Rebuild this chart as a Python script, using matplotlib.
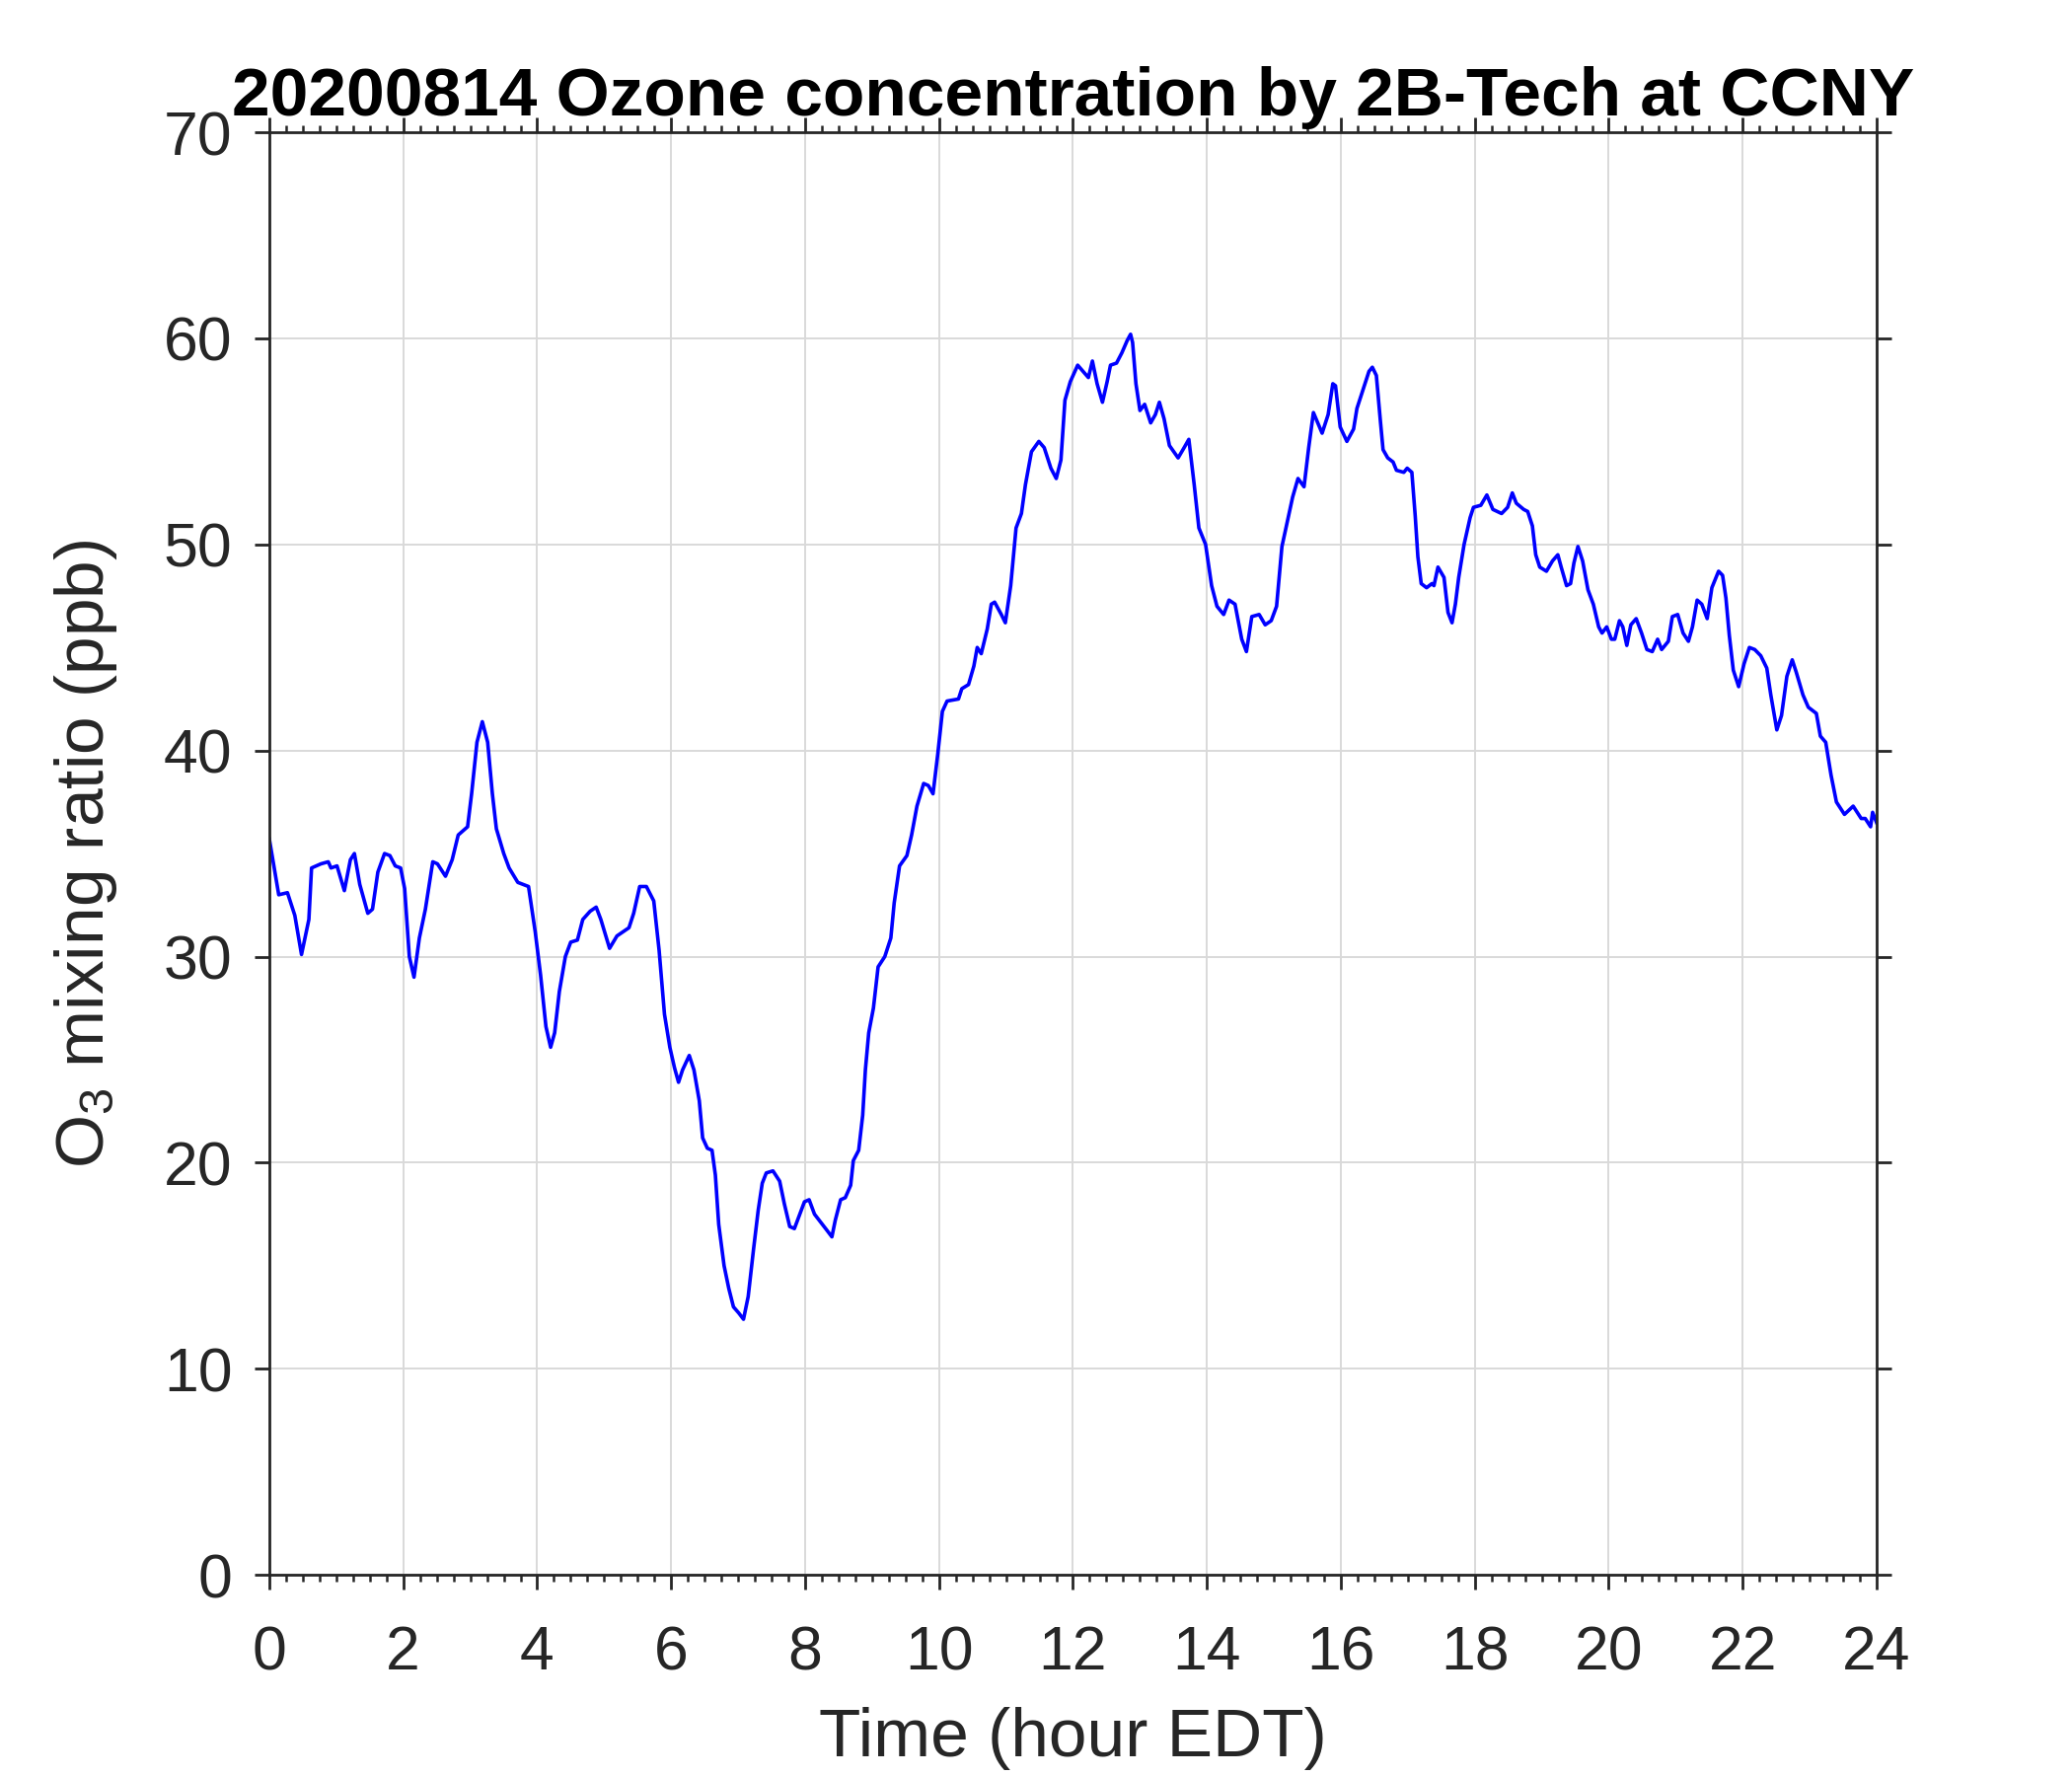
import matplotlib
matplotlib.use("Agg")
import matplotlib.pyplot as plt
from matplotlib.ticker import MultipleLocator

plt.rcParams["font.family"] = ["Liberation Sans", "DejaVu Sans"]
plt.rcParams["mathtext.fontset"] = "custom"
plt.rcParams["mathtext.rm"] = "Liberation Sans"
plt.rcParams["mathtext.it"] = "Liberation Sans"

# O3 readings (hour EDT, ppb)
hours = [
    0.00, 0.14, 0.27, 0.38, 0.48, 0.59, 0.63, 0.77, 0.88, 0.92,
    1.01, 1.12, 1.21, 1.27, 1.35, 1.47, 1.54, 1.62, 1.72, 1.80,
    1.88, 1.96, 2.02, 2.09, 2.16, 2.24, 2.33, 2.44, 2.51, 2.63,
    2.73, 2.82, 2.96, 3.02, 3.10, 3.18, 3.26, 3.33, 3.39, 3.50,
    3.58, 3.71, 3.87, 3.97, 4.05, 4.13, 4.20, 4.26, 4.33, 4.42,
    4.50, 4.60, 4.68, 4.79, 4.88, 4.95, 5.08, 5.19, 5.37, 5.44,
    5.53, 5.63, 5.74, 5.82, 5.90, 5.98, 6.05, 6.11, 6.17, 6.27,
    6.34, 6.42, 6.47, 6.54, 6.61, 6.66, 6.71, 6.79, 6.86, 6.93,
    7.01, 7.08, 7.15, 7.23, 7.30, 7.36, 7.42, 7.52, 7.62, 7.69,
    7.77, 7.84, 7.91, 7.99, 8.06, 8.14, 8.26, 8.33, 8.40, 8.45,
    8.53, 8.60, 8.68, 8.72, 8.80, 8.86, 8.90, 8.95, 9.02, 9.09,
    9.19, 9.28, 9.33, 9.41, 9.52, 9.59, 9.67, 9.77, 9.84, 9.91,
    9.98, 10.05, 10.12, 10.29, 10.34, 10.44, 10.52, 10.57, 10.63, 10.72,
    10.78, 10.83, 10.93, 10.99, 11.07, 11.15, 11.23, 11.29, 11.38, 11.49,
    11.57, 11.67, 11.75, 11.82, 11.88, 11.96, 12.07, 12.15, 12.23, 12.29,
    12.36, 12.44, 12.51, 12.56, 12.65, 12.73, 12.81, 12.86, 12.89, 12.94,
    13.00, 13.07, 13.16, 13.23, 13.29, 13.36, 13.44, 13.57, 13.66, 13.73,
    13.81, 13.88, 13.98, 14.07, 14.15, 14.25, 14.33, 14.42, 14.52, 14.59,
    14.67, 14.78, 14.87, 14.96, 15.04, 15.12, 15.20, 15.28, 15.36, 15.45,
    15.52, 15.59, 15.72, 15.81, 15.88, 15.92, 15.99, 16.09, 16.19, 16.24,
    16.35, 16.42, 16.47, 16.53, 16.59, 16.63, 16.70, 16.78, 16.83, 16.94,
    16.99, 17.06, 17.11, 17.15, 17.20, 17.28, 17.36, 17.39, 17.45, 17.54,
    17.60, 17.66, 17.71, 17.76, 17.84, 17.93, 17.98, 18.09, 18.18, 18.27,
    18.40, 18.49, 18.56, 18.62, 18.73, 18.79, 18.86, 18.91, 18.97, 19.07,
    19.16, 19.24, 19.29, 19.37, 19.43, 19.48, 19.54, 19.61, 19.69, 19.77,
    19.85, 19.90, 19.97, 20.04, 20.09, 20.16, 20.21, 20.27, 20.33, 20.41,
    20.49, 20.57, 20.65, 20.73, 20.79, 20.89, 20.95, 21.03, 21.11, 21.19,
    21.25, 21.32, 21.39, 21.47, 21.54, 21.64, 21.70, 21.75, 21.80, 21.86,
    21.94, 22.02, 22.10, 22.18, 22.27, 22.36, 22.42, 22.51, 22.58, 22.66,
    22.74, 22.80, 22.90, 22.98, 23.10, 23.16, 23.24, 23.32, 23.40, 23.52,
    23.65, 23.77, 23.83, 23.91, 23.94, 24.00,
]
o3_ppb = [
    35.7, 33.0, 33.1, 32.0, 30.1, 31.8, 34.3, 34.5, 34.6, 34.3,
    34.4, 33.2, 34.7, 35.0, 33.5, 32.1, 32.3, 34.1, 35.0, 34.9,
    34.4, 34.3, 33.3, 30.0, 29.0, 30.9, 32.3, 34.6, 34.5, 33.9,
    34.7, 35.9, 36.3, 37.9, 40.4, 41.4, 40.4, 37.9, 36.2, 35.0,
    34.3, 33.6, 33.4, 31.2, 29.1, 26.6, 25.6, 26.3, 28.3, 30.0,
    30.7, 30.8, 31.8, 32.2, 32.4, 31.8, 30.4, 31.0, 31.4, 32.1,
    33.4, 33.4, 32.7, 30.3, 27.2, 25.6, 24.6, 23.9, 24.5, 25.2,
    24.5, 23.0, 21.2, 20.7, 20.6, 19.4, 17.0, 15.0, 13.9, 13.0,
    12.7, 12.4, 13.5, 15.8, 17.7, 19.0, 19.5, 19.6, 19.1, 18.0,
    16.9, 16.8, 17.4, 18.1, 18.2, 17.5, 17.0, 16.7, 16.4, 17.2,
    18.2, 18.3, 18.9, 20.1, 20.6, 22.3, 24.5, 26.3, 27.5, 29.5,
    30.0, 30.9, 32.6, 34.4, 34.9, 35.9, 37.3, 38.4, 38.3, 37.9,
    39.8, 41.9, 42.4, 42.5, 43.0, 43.2, 44.1, 45.0, 44.7, 45.9,
    47.1, 47.2, 46.6, 46.2, 48.0, 50.8, 51.5, 52.9, 54.5, 55.0,
    54.7, 53.7, 53.2, 54.1, 57.0, 57.9, 58.7, 58.4, 58.1, 58.9,
    57.8, 56.9, 57.9, 58.7, 58.8, 59.3, 59.9, 60.2, 59.8, 57.8,
    56.5, 56.8, 55.9, 56.3, 56.9, 56.1, 54.8, 54.2, 54.7, 55.1,
    52.9, 50.8, 50.0, 48.0, 47.0, 46.6, 47.3, 47.1, 45.4, 44.8,
    46.5, 46.6, 46.1, 46.3, 47.0, 49.9, 51.1, 52.3, 53.2, 52.8,
    54.7, 56.4, 55.4, 56.3, 57.8, 57.7, 55.7, 55.0, 55.6, 56.6,
    57.7, 58.4, 58.6, 58.2, 56.0, 54.6, 54.2, 54.0, 53.6, 53.5,
    53.7, 53.5, 51.4, 49.4, 48.1, 47.9, 48.1, 48.0, 48.9, 48.4,
    46.7, 46.2, 47.1, 48.4, 50.0, 51.3, 51.8, 51.9, 52.4, 51.7,
    51.5, 51.8, 52.5, 52.0, 51.7, 51.6, 50.9, 49.5, 48.9, 48.7,
    49.2, 49.5, 48.9, 48.0, 48.1, 49.1, 49.9, 49.2, 47.8, 47.1,
    46.0, 45.7, 46.0, 45.4, 45.4, 46.3, 46.0, 45.1, 46.1, 46.4,
    45.7, 44.9, 44.8, 45.4, 44.9, 45.3, 46.5, 46.6, 45.7, 45.3,
    46.0, 47.3, 47.1, 46.4, 47.9, 48.7, 48.5, 47.4, 45.6, 43.9,
    43.1, 44.2, 45.0, 44.9, 44.6, 44.0, 42.7, 41.0, 41.7, 43.6,
    44.4, 43.8, 42.7, 42.1, 41.8, 40.7, 40.4, 38.8, 37.5, 36.9,
    37.3, 36.7, 36.7, 36.3, 37.0, 36.5,
]

axis_color = "#262626"

fig = plt.figure(figsize=(10.5, 9), dpi=200)
ax = fig.add_axes([0.130, 0.1133, 0.7757, 0.8122])

ax.plot(hours, o3_ppb, color="#0000ff", linewidth=1.3)

ax.set_xlim(0, 24)
ax.set_ylim(0, 70)
ax.xaxis.set_major_locator(MultipleLocator(2))
ax.xaxis.set_minor_locator(MultipleLocator(0.25))
ax.yaxis.set_major_locator(MultipleLocator(10))

ax.grid(True, which="major", color="#d9d9d9", linewidth=0.7)
ax.set_axisbelow(True)

for sp in ax.spines.values():
    sp.set_color(axis_color)
    sp.set_linewidth(1.0)

ax.tick_params(axis="both", which="major", direction="out", length=5.5, width=1.0,
               color=axis_color, labelcolor=axis_color, labelsize=22.5)
ax.tick_params(axis="x", which="major", top=True, pad=12.5)
ax.tick_params(axis="x", which="minor", direction="out", top=True, length=2.5, width=0.9,
               color=axis_color)
ax.tick_params(axis="y", which="major", right=True, pad=8)

ax.set_xlabel("Time (hour EDT)", fontsize=25, color=axis_color, labelpad=9)
ax.set_ylabel(r"O$_{3}$ mixing ratio (ppb)", fontsize=25, color=axis_color, labelpad=16)
ax.set_title("20200814 Ozone concentration by 2B-Tech at CCNY", fontsize=25,
             fontweight="bold", color="black", pad=6)

fig.savefig("out.png", dpi=200)
